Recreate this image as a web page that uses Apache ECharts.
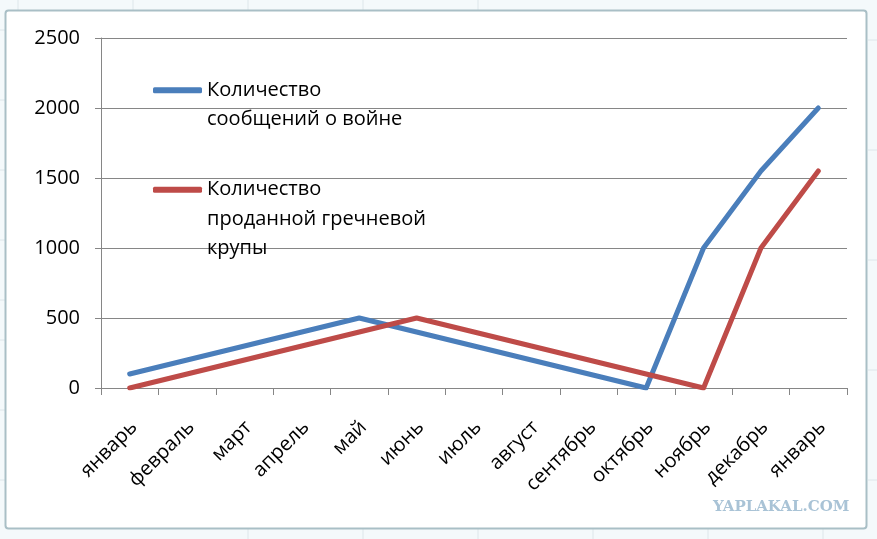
<!DOCTYPE html>
<html><head><meta charset="utf-8">
<script src="https://cdn.jsdelivr.net/npm/echarts@6/dist/echarts.min.js"></script>
<style>html,body{margin:0;padding:0;background:#fff}#c{width:877px;height:539px}</style>
</head><body><div id="c"></div>
<script>
const categories = ['январь','февраль','март','апрель','май','июнь','июль','август','сентябрь','октябрь','ноябрь','декабрь','январь'];
const warMessages = [100,200,300,400,500,400,300,200,100,0,1000,1550,2000];
const buckwheatSold = [0,100,200,300,400,500,400,300,200,100,0,1000,1550];
const yTicks = [0,500,1000,1500,2000,2500];
const seriesNames = ['Количество\nсообщений о войне','Количество\nпроданной гречневой\nкрупы'];

const FONT = '"Open Sans", "Noto Sans", sans-serif';
const chart = echarts.init(document.getElementById('c'), null, {renderer:'canvas'});
const bgLines = [];
// spreadsheet cell lines outside the chart frame
[18,133,248,363,478].forEach(x=>bgLines.push({type:'line',shape:{x1:x,y1:0,x2:x,y2:10},style:{stroke:'#dde6ea',lineWidth:1},z:-5}));
[248,363,478,593,708,823].forEach(x=>bgLines.push({type:'line',shape:{x1:x,y1:529,x2:x,y2:539},style:{stroke:'#dde6ea',lineWidth:1},z:-5}));
[40,150,260,370,480].forEach(y=>bgLines.push({type:'line',shape:{x1:868,y1:y,x2:877,y2:y},style:{stroke:'#dde6ea',lineWidth:1},z:-5}));
[30,100,170,240,300,340,410,480].forEach(y=>bgLines.push({type:'line',shape:{x1:0,y1:y,x2:5,y2:y},style:{stroke:'#dde6ea',lineWidth:1},z:-5}));

// one legend per series; leading blank lines keep the first text line level with the icon
function legendFor(name, top, blank){
  return {data:[name],left:153,top:top,padding:0,orient:'vertical',itemWidth:49,itemHeight:6,itemGap:0,
    icon:'roundRect',selectedMode:false,
    formatter:n=>'\n'.repeat(blank)+n,
    textStyle:{fontFamily:FONT,fontSize:20,color:'#000',lineHeight:29.5}};
}

chart.setOption({
  backgroundColor:'#f4f9fb',
  animation:false,
  graphic:[
    ...bgLines,
    {type:'rect',shape:{x:5.5,y:10.5,width:861,height:518,r:3},style:{fill:'#ffffff',stroke:'#a9bfc6',lineWidth:2},z:-4},
    {type:'text',left:713,top:500,style:{text:'YAPLAKAL.COM',font:'bold 15px "DejaVu Serif", serif',fill:'#a9c3d6'},z:10}
  ],
  grid:{left:101,right:30,top:38,bottom:151,containLabel:false},
  legend:[legendFor(seriesNames[0],46,1),legendFor(seriesNames[1],116,2)],
  xAxis:{
    type:'category',data:categories,boundaryGap:true,
    axisLine:{lineStyle:{color:'#868686',width:1}},
    axisTick:{show:true,alignWithLabel:false,length:7,lineStyle:{color:'#868686'}},
    axisLabel:{rotate:45,margin:32,fontFamily:FONT,fontSize:20,color:'#000',interval:0,
      verticalAlign:'top',lineHeight:12},
    splitLine:{show:false}
  },
  yAxis:{
    type:'value',min:0,max:2500,interval:500,
    axisLine:{show:true,lineStyle:{color:'#868686',width:1}},
    axisTick:{show:true,length:6,inside:false,lineStyle:{color:'#868686'}},
    axisLabel:{margin:21,fontFamily:FONT,fontSize:20,color:'#000',
      formatter:v=>yTicks.includes(v)?String(v):''},
    splitLine:{show:true,lineStyle:{color:'#868686',width:1}}
  },
  series:[
    {name:seriesNames[0],type:'line',data:warMessages,symbol:'none',
     lineStyle:{color:'#4a7ebb',width:5,cap:'round',join:'round'},itemStyle:{color:'#4a7ebb'}},
    {name:seriesNames[1],type:'line',data:buckwheatSold,symbol:'none',
     lineStyle:{color:'#be4b48',width:5,cap:'round',join:'round'},itemStyle:{color:'#be4b48'}}
  ]
});
</script></body></html>
